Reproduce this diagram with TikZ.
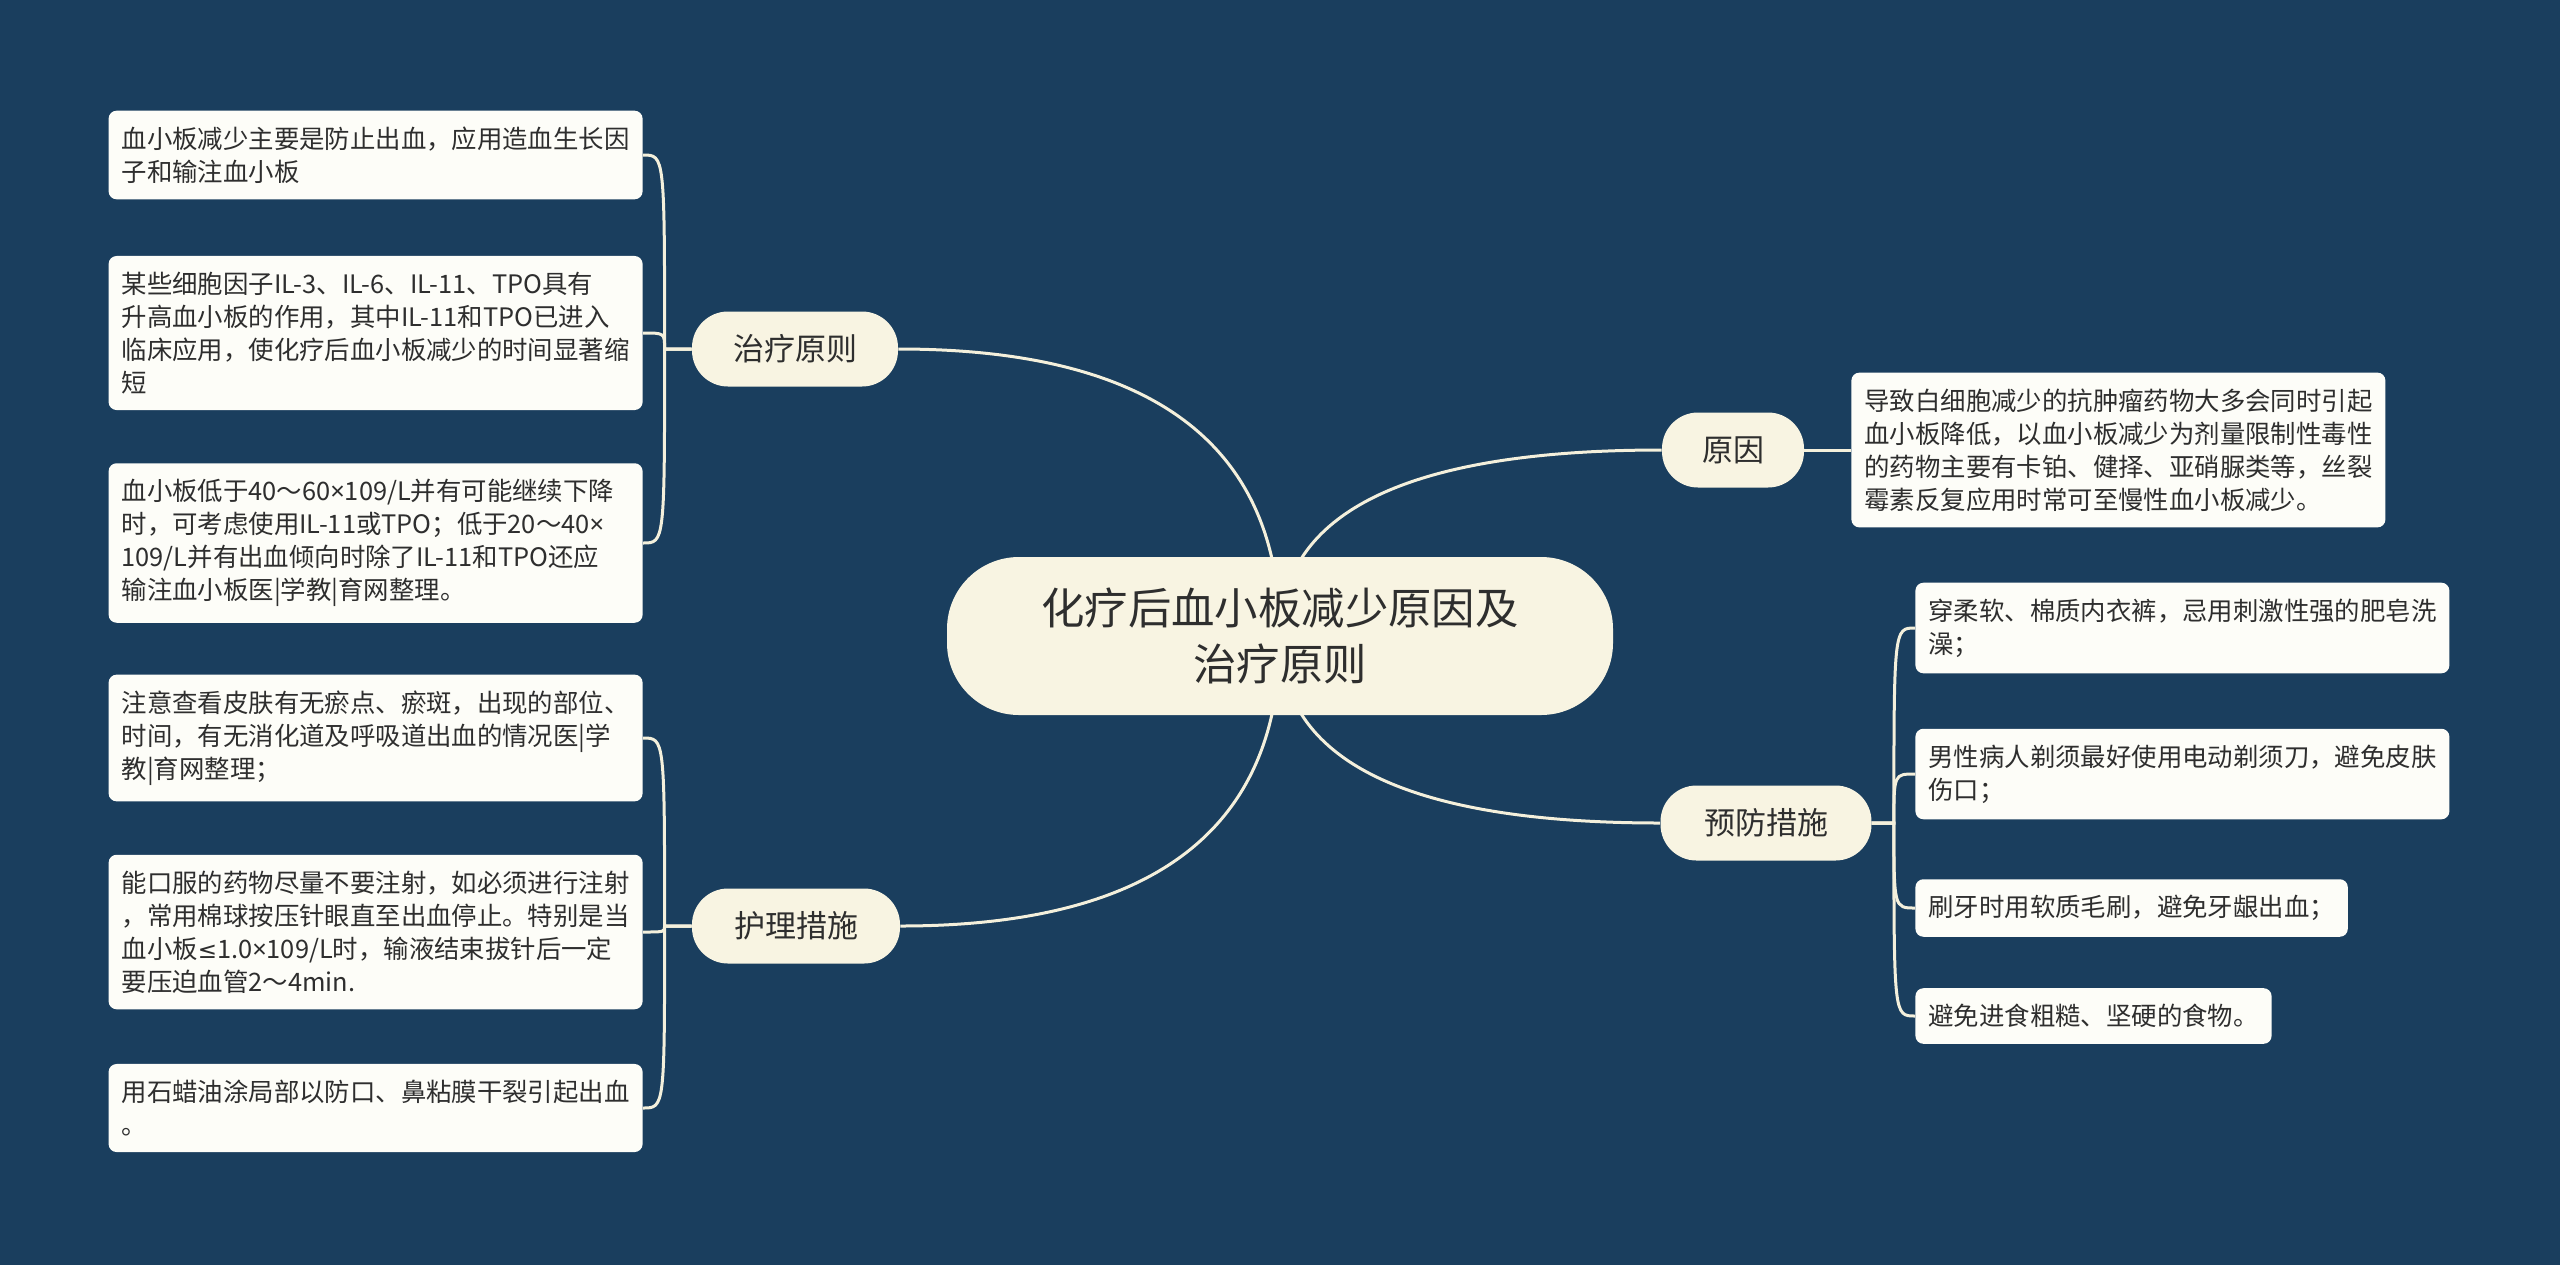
\documentclass[tikz,border=0pt]{standalone}
\usepackage{fontspec}
\setmainfont{Noto Sans CJK SC}
\newfontfamily\latinsym{Noto Sans}
\newfontfamily\mathsym{DejaVu Sans}
\usepackage{tikz}
\usetikzlibrary{calc,backgrounds}
\definecolor{bgblue}{HTML}{1A3E5E}
\definecolor{linecol}{HTML}{F4F0DC}
\definecolor{topicfill}{HTML}{F8F4E2}
\definecolor{leaffill}{HTML}{FDFDF8}
\definecolor{inkgray}{HTML}{2E2E2E}
\newcommand{\timessym}{{\latinsym ×}}
\newcommand{\lesym}{{\mathsym\fontsize{11.5}{16.5}\selectfont ≤}}

\begin{document}
\begin{tikzpicture}[x=0.5pt,y=-0.5pt,text=inkgray,
	root/.style={fill=topicfill,rounded corners=36pt,minimum width=333pt,minimum height=79pt,align=center,font=\fontsize{21.7}{27.7}\selectfont},
	branch/.style={fill=topicfill,rounded corners=18pt,minimum height=37.5pt,inner xsep=0pt,font=\fontsize{15.5}{18}\selectfont},
	leaf/.style={fill=leaffill,rounded corners=4pt,align=left,inner xsep=6.5pt,inner ysep=8pt,font=\fontsize{12.7}{16.5}\selectfont},
	wide/.style={leaf,text width=254pt},
	conn/.style={draw=linecol,line width=1.5pt}]

\node[root] (root) at (1280,636) {化疗后血小板减少原因及\\治疗原则};

\node[branch,minimum width=103pt] (treat) at (795,349) {治疗原则};
\node[branch,minimum width=104pt] (care) at (796,926) {护理措施};
\node[branch,minimum width=71pt] (cause) at (1733,450) {原因};
\node[branch,minimum width=105.5pt] (prevent) at (1766,823) {预防措施};

\node[wide,anchor=east] (treat1) at (643,155) {血小板减少主要是防止出血，应用造血生长因\\子和输注血小板};
\node[wide,anchor=east] (treat2) at (643,333) {某些细胞因子IL-3、IL-6、IL-11、TPO具有\\升高血小板的作用，其中IL-11和TPO已进入\\临床应用，使化疗后血小板减少的时间显著缩\\短};
\node[wide,anchor=east] (treat3) at (643,543) {血小板低于40～60\timessym109/L并有可能继续下降\\时，可考虑使用IL-11或TPO；低于20～40\timessym\\109/L并有出血倾向时除了IL-11和TPO还应\\输注血小板医|学教|育网整理。};

\node[wide,anchor=east] (care1) at (643,738) {注意查看皮肤有无瘀点、瘀斑，出现的部位、\\时间，有无消化道及呼吸道出血的情况医|学\\教|育网整理；};
\node[wide,anchor=east] (care2) at (643,932) {能口服的药物尽量不要注射，如必须进行注射\\，常用棉球按压针眼直至出血停止。特别是当\\血小板\lesym1.0\timessym109/L时，输液结束拔针后一定\\要压迫血管2～4min.};
\node[wide,anchor=east] (care3) at (643,1108) {用石蜡油涂局部以防口、鼻粘膜干裂引起出血\\。};

\node[wide,anchor=west] (cause1) at (1851,450) {导致白细胞减少的抗肿瘤药物大多会同时引起\\血小板降低，以血小板减少为剂量限制性毒性\\的药物主要有卡铂、健择、亚硝脲类等，丝裂\\霉素反复应用时常可至慢性血小板减少。};

\node[wide,anchor=west] (prevent1) at (1915,628) {穿柔软、棉质内衣裤，忌用刺激性强的肥皂洗\\澡；};
\node[wide,anchor=west] (prevent2) at (1915,774) {男性病人剃须最好使用电动剃须刀，避免皮肤\\伤口；};
\node[leaf,anchor=west] (prevent3) at (1915,908) {刷牙时用软质毛刷，避免牙龈出血；};
\node[leaf,anchor=west] (prevent4) at (1915,1016) {避免进食粗糙、坚硬的食物。};

\coordinate (treatfork) at ($(treat.west)+(-27,0)$);
\coordinate (carefork) at ($(care.west)+(-27,0)$);
\coordinate (preventfork) at ($(prevent.east)+(22,0)$);

\begin{pgfonlayer}{background}
\fill[bgblue] (0,0) rectangle (2560,1265);
\foreach \b/\e in {treat/east,care/east,cause/west,prevent/west}
	\draw[conn] (root.center) .. controls ($(root.center)!2/3!(root.center |- \b.\e)$) and ($(\b.\e)!2/3!(root.center |- \b.\e)$) .. (\b.\e);
\foreach \l in {treat1,treat2,treat3}
	\draw[conn] (treat.west) -- (treatfork) .. controls (treatfork |- \l.east) and (treatfork |- \l.east) .. (\l.east);
\foreach \l in {care1,care2,care3}
	\draw[conn] (care.west) -- (carefork) .. controls (carefork |- \l.east) and (carefork |- \l.east) .. (\l.east);
\foreach \l in {prevent1,prevent2,prevent3,prevent4}
	\draw[conn] (prevent.east) -- (preventfork) .. controls (preventfork |- \l.west) and (preventfork |- \l.west) .. (\l.west);
\draw[conn] (cause.east) -- (cause1.west);
\end{pgfonlayer}

\end{tikzpicture}
\end{document}
